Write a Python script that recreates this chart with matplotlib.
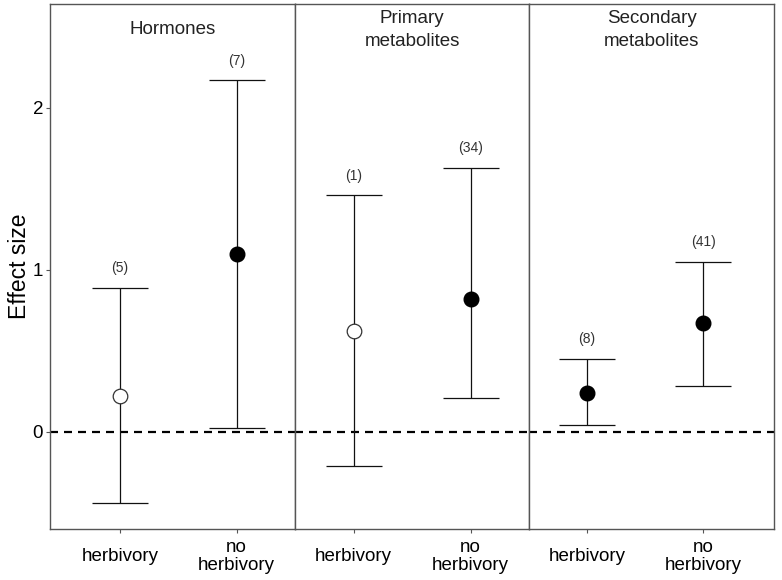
import matplotlib
matplotlib.use('Agg')
import matplotlib.pyplot as plt
import numpy as np

plt.rcParams['font.family'] = ['Liberation Sans', 'DejaVu Sans']

groups = ['Hormones', 'Primary\nmetabolites', 'Secondary\nmetabolites']
categories = ['herbivory', 'no\nherbivory']

mean_vals = [[0.22, 1.10], [0.62, 0.82], [0.24, 0.67]]
lower_vals = [[-0.44, 0.025], [-0.21, 0.21], [0.04, 0.28]]
upper_vals = [[0.89, 2.17], [1.46, 1.63], [0.45, 1.05]]
n_vals = [[5, 7], [1, 34], [8, 41]]
filled = [[False, True], [False, True], [True, True]]

xlims = [(0.40, 2.50), (0.50, 2.50), (0.50, 2.61)]

fig = plt.figure(figsize=(7.82, 5.8), dpi=100)
gs = fig.add_gridspec(1, 3, width_ratios=[245, 234, 245], wspace=0,
                      left=50 / 782, right=774 / 782,
                      bottom=(580 - 529) / 580, top=(580 - 4) / 580)

axes = []
for i in range(3):
    ax = fig.add_subplot(gs[0, i], sharey=axes[0] if axes else None)
    axes.append(ax)
    x = np.arange(1, 3)
    m = np.array(mean_vals[i])
    lo = np.array(lower_vals[i])
    hi = np.array(upper_vals[i])

    ax.axhline(0, color='black', lw=1.6, linestyle=(0, (3.6, 2.7)), zorder=1)

    ax.errorbar(x, m, yerr=[m - lo, hi - m], fmt='none', ecolor='#111111',
                elinewidth=0.9, capsize=20.5, capthick=0.9, zorder=2)
    for j in range(2):
        if filled[i][j]:
            ax.plot(x[j], m[j], 'o', ms=10.5, mfc='black', mec='black', zorder=3)
        else:
            ax.plot(x[j], m[j], 'o', ms=10.5, mfc='white', mec='#333333',
                    mew=0.9, zorder=3)
        ax.text(x[j], hi[j] + 0.12, f'({n_vals[i][j]})', ha='center', va='center',
                fontsize=10, color='#333333')

    ax.text(0.5, 0.951, groups[i], transform=ax.transAxes, ha='center', va='center',
            fontsize=13.5, color='#222222', linespacing=1.45)

    ax.set_xlim(*xlims[i])
    ax.set_xticks(x)
    ax.set_xticklabels(categories, fontsize=13.5, linespacing=1.1)
    for lab in ax.get_xticklabels():
        lab.set_va('center')
    ax.tick_params(axis='x', length=3, pad=17, color='#555555', width=0.8)
    for s in ax.spines.values():
        s.set_color('#555555')
        s.set_linewidth(1.0)

    if i == 0:
        ax.set_yticks([0, 1, 2])
        ax.tick_params(axis='y', length=3, pad=2, labelsize=13.5, color='#555555', width=0.8)
        ax.set_ylabel('Effect size', fontsize=16.5, labelpad=1)
    else:
        ax.tick_params(axis='y', left=False, labelleft=False)

axes[0].set_ylim(-0.60, 2.64)

fig.savefig('out.png', dpi=100)
